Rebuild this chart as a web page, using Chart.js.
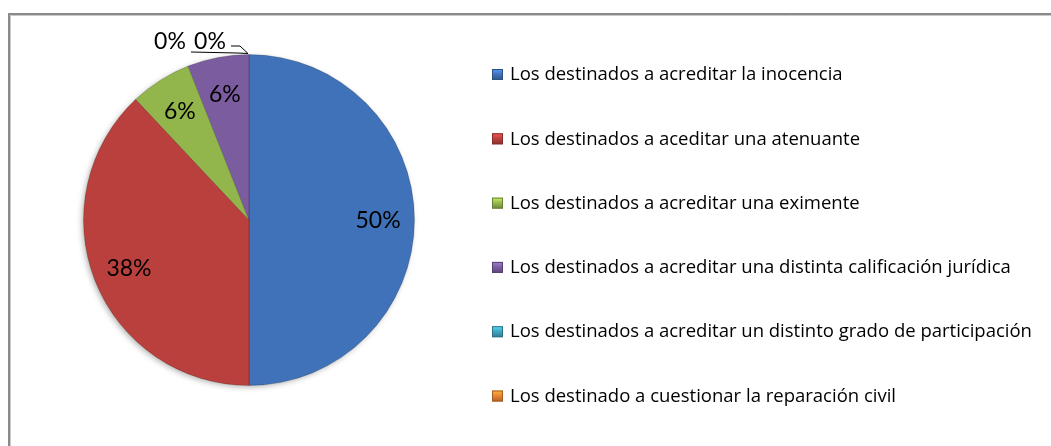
<!DOCTYPE html>
<html>
<head>
<meta charset="utf-8">
<script src="https://cdn.jsdelivr.net/npm/chart.js@4"></script>
<style>
  html, body { margin: 0; padding: 0; background: #fff; }
  #wrap { width: 1051px; height: 446px; }
</style>
</head>
<body>
<div id="wrap"><canvas id="pieChart" width="1051" height="446"></canvas></div>
<script>
const categorias = [
    'Los destinados a acreditar la inocencia',
    'Los destinados a aceditar una atenuante',
    'Los destinados a acreditar una eximente',
    'Los destinados a acreditar una distinta calificación jurídica',
    'Los destinados a acreditar un distinto grado de participación',
    'Los destinado a cuestionar la reparación civil'
];
const porcentajes = [50, 38, 6, 6, 0, 0];
const colores = ['#3f72b8', '#b9403c', '#93b64c', '#7a5c9f', '#3fa3bf', '#e8842f'];

const FONT = 'Lato, "Noto Sans", sans-serif';
const FONT_LEYENDA = '"Open Sans", "Noto Sans", sans-serif';

// darker version of a hex colour for edges
function shade(hex, f) {
    const n = parseInt(hex.slice(1), 16);
    const r = Math.round(((n >> 16) & 255) * f);
    const g = Math.round(((n >> 8) & 255) * f);
    const b = Math.round((n & 255) * f);
    return `rgb(${Math.min(r, 255)},${Math.min(g, 255)},${Math.min(b, 255)})`;
}

// grey frame around the whole chart
const marco = {
    id: 'marco',
    beforeDraw(chart) {
        const ctx = chart.ctx;
        ctx.save();
        ctx.strokeStyle = '#8a8a8a';
        ctx.lineWidth = 2;
        ctx.beginPath();
        ctx.moveTo(9, chart.height + 2);
        ctx.lineTo(9, 14);
        ctx.lineTo(chart.width + 2, 14);
        ctx.stroke();
        ctx.strokeStyle = '#c8c8c8';
        ctx.lineWidth = 1;
        ctx.beginPath();
        ctx.moveTo(10.5, chart.height + 2);
        ctx.lineTo(10.5, 15.5);
        ctx.lineTo(chart.width + 2, 15.5);
        ctx.stroke();
        ctx.restore();
    }
};

// soft shadow under the pie
const sombra = {
    id: 'sombra',
    beforeDatasetsDraw(chart) {
        const arc = chart.getDatasetMeta(0).data[0];
        const { x, y, outerRadius } = arc.getProps(['x', 'y', 'outerRadius'], true);
        const ctx = chart.ctx;
        ctx.save();
        ctx.shadowColor = 'rgba(0,0,0,0.35)';
        ctx.shadowBlur = 6;
        ctx.shadowOffsetX = -2;
        ctx.shadowOffsetY = 2;
        ctx.fillStyle = '#ffffff';
        ctx.beginPath();
        ctx.arc(x, y, outerRadius - 1, 0, Math.PI * 2);
        ctx.fill();
        ctx.restore();
    }
};

// percentage labels on the slices, zero slices get leader lines
const etiquetas = {
    id: 'etiquetas',
    afterDatasetsDraw(chart) {
        const ctx = chart.ctx;
        const meta = chart.getDatasetMeta(0);
        ctx.save();
        ctx.font = `23px ${FONT}`;
        ctx.fillStyle = '#000';
        ctx.textAlign = 'center';
        ctx.textBaseline = 'middle';
        let ceros = 0;
        meta.data.forEach((arc, i) => {
            const p = arc.getProps(['x', 'y', 'startAngle', 'endAngle', 'outerRadius'], true);
            const txt = porcentajes[i] + '%';
            if (porcentajes[i] > 0) {
                const mid = (p.startAngle + p.endAngle) / 2;
                const d = p.outerRadius * 0.78;
                ctx.fillText(txt, p.x + Math.cos(mid) * d, p.y + Math.sin(mid) * d + 1);
            } else {
                const ex = p.x + Math.cos(p.startAngle) * p.outerRadius;
                const ey = p.y + Math.sin(p.startAngle) * p.outerRadius;
                const lx = ex - 79 + ceros * 40;
                const ly = ey - 13;
                ctx.fillText(txt, lx, ly);
                ctx.strokeStyle = '#000';
                ctx.lineWidth = 1;
                ctx.beginPath();
                if (ceros === 0) {
                    ctx.moveTo(lx + 21, ly + 10.5);
                    ctx.lineTo(ex - 12, ly + 11.5);
                    ctx.lineTo(ex - 1, ey - 1);
                } else {
                    ctx.moveTo(lx + 21, ly + 4.5);
                    ctx.lineTo(lx + 30, ly + 4.5);
                    ctx.lineTo(ex - 1, ey - 1);
                }
                ctx.stroke();
                ceros++;
            }
        });
        ctx.restore();
    }
};

// legend on the right side
const leyenda = {
    id: 'leyenda',
    afterDraw(chart) {
        const ctx = chart.ctx;
        ctx.save();
        ctx.font = `18.5px ${FONT_LEYENDA}`;
        ctx.textBaseline = 'middle';
        ctx.textAlign = 'left';
        categorias.forEach((cat, i) => {
            const y = 74 + i * 64.3;
            const x = 492;
            const g = ctx.createLinearGradient(x, y - 5, x, y + 6);
            g.addColorStop(0, shade(colores[i], 1.35));
            g.addColorStop(0.5, colores[i]);
            g.addColorStop(1, shade(colores[i], 0.75));
            ctx.fillStyle = g;
            ctx.fillRect(x, y - 5, 11, 11);
            ctx.strokeStyle = shade(colores[i], 0.7);
            ctx.lineWidth = 1;
            ctx.strokeRect(x + 0.5, y - 4.5, 10, 10);
            ctx.fillStyle = '#000';
            ctx.fillText(cat, 510, y + 1);
        });
        ctx.restore();
    }
};

const chart = new Chart(document.getElementById('pieChart'), {
    type: 'pie',
    data: {
        labels: categorias,
        datasets: [{
            data: porcentajes,
            backgroundColor: (c) => {
                const a = c.element;
                const col = colores[c.dataIndex];
                if (!a || !c.chart.chartArea) return col;
                const { x, y, outerRadius } = a.getProps(['x', 'y', 'outerRadius'], true);
                if (!outerRadius) return col;
                const g = c.chart.ctx.createRadialGradient(x, y, 0, x, y, outerRadius);
                g.addColorStop(0, col);
                g.addColorStop(0.9, col);
                g.addColorStop(1, shade(col, 0.8));
                return g;
            },
            borderColor: 'rgba(0,0,0,0.18)',
            borderWidth: 1
        }]
    },
    options: {
        responsive: false,
        animation: false,
        layout: { padding: { left: 83, right: 636, top: 54, bottom: 60 } },
        plugins: {
            legend: { display: false },
            tooltip: { enabled: false }
        }
    },
    plugins: [marco, sombra, etiquetas, leyenda]
});
</script>
</body>
</html>
